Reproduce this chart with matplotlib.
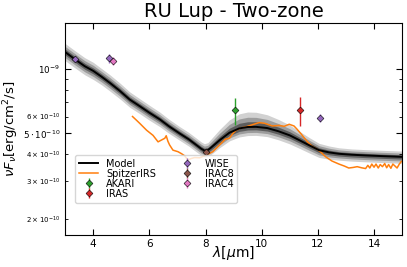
"""SED plot of RU Lup, two-zone model."""

import numpy as np
import matplotlib
matplotlib.use("Agg")
import matplotlib.pyplot as plt
from matplotlib.ticker import FixedLocator, FixedFormatter

# model: median curve and outer band half-widths (dex), flux in 1e-10 erg/cm2/s
model_wl = [3.0, 3.35, 3.7, 4.0, 4.3, 4.6, 4.95, 5.3, 5.66, 6.0, 6.37, 6.7,
            7.08, 7.4, 7.67, 7.85, 7.96, 8.08, 8.2, 8.5, 8.85, 9.2, 9.5, 9.8,
            10.2, 10.6, 11.0, 11.33, 11.7, 12.04, 12.4, 12.75, 13.2, 13.7,
            14.3, 15.0]
model_flux = [12.0, 11.1, 10.3, 9.8, 9.2, 8.6, 7.9, 7.2, 6.7, 6.25, 5.82, 5.4,
              5.0, 4.7, 4.42, 4.24, 4.16, 4.18, 4.3, 4.65, 5.04, 5.28, 5.36, 5.37,
              5.3, 5.12, 4.9, 4.66, 4.4, 4.18, 4.08, 4.02, 3.98, 3.95,
              3.92, 3.89]
band_up = [.040, .040, .040, .040, .038, .038, .037, .036, .035, .035, .034, .033,
           .032, .032, .032, .032, .032, .035, .040, .050, .060, .068, .070, .068,
           .062, .055, .048, .042, .036, .032, .030, .028, .027, .027,
           .027, .027]
band_dn = [.040, .040, .040, .040, .038, .038, .037, .036, .035, .035, .034, .033,
           .032, .032, .032, .031, .030, .031, .032, .035, .038, .040, .040, .040,
           .040, .040, .040, .038, .036, .034, .032, .030, .030, .030,
           .030, .030]
band_levels = [1.0, 0.65, 0.35]

# Spitzer IRS spectrum
irs_wl = [5.40, 5.55, 5.66, 5.9, 6.13, 6.31, 6.43, 6.55, 6.6, 6.66, 6.72, 6.84,
          7.02, 7.15, 7.26, 7.37, 7.49, 7.61, 7.79, 8.02, 8.26, 8.5, 8.7, 8.85,
          8.97, 9.09, 9.25, 9.44, 9.68, 9.91, 10.1, 10.38, 10.62, 10.8, 10.98,
          11.15, 11.25, 11.39, 11.63, 11.81, 11.93, 12.1, 12.28, 12.5, 12.75,
          12.95, 13.1, 13.25, 13.4, 13.55, 13.7, 13.78, 13.85, 13.92, 14.0,
          14.07, 14.15, 14.22, 14.3, 14.38, 14.45, 14.52, 14.6, 14.67, 14.75,
          14.82, 14.9, 14.97]
irs_flux = [6.0, 5.75, 5.57, 5.18, 4.9, 4.57, 4.66, 4.75, 4.88, 4.6, 4.42, 4.18,
            4.11, 4.02, 3.93, 3.76, 3.82, 3.86, 3.85, 3.96, 4.11, 4.42, 4.7, 4.75,
            5.0, 5.18, 5.3, 5.37, 5.5, 5.62, 5.58, 5.42, 5.45, 5.4, 5.52,
            5.42, 5.25, 5.0, 4.57, 4.34, 4.26, 4.1, 3.89, 3.72, 3.6,
            3.52, 3.45, 3.47, 3.5, 3.46, 3.43, 3.55, 3.45, 3.6, 3.48,
            3.6, 3.45, 3.58, 3.5, 3.62, 3.46, 3.58, 3.44, 3.6, 3.52,
            3.45, 3.6, 3.7]

# photometry
akari_wl, akari_flux, akari_err = [9.06], [6.43], [0.93]
iras_wl, iras_flux, iras_err = [11.35], [6.43], [1.0]
wise_wl, wise_flux, wise_err = [3.35, 4.57, 12.08], [11.1, 11.22, 5.89], [0.2, 0.5, 0.25]
irac8_wl, irac8_flux, irac8_err = [8.0], [4.1], [0.1]
irac4_wl, irac4_flux, irac4_err = [4.69], [10.89], [0.45]

scale = 1e-10

fig = plt.figure(figsize=(4.07, 2.67), dpi=100)
ax = fig.add_axes([0.16, 0.12, 0.828, 0.794])

wl = np.array(model_wl)
mf = np.array(model_flux) * scale
for lev, alpha in zip(band_levels, [0.18, 0.25, 0.4]):
    ax.fill_between(wl, mf / 10 ** (np.array(band_dn) * lev),
                    mf * 10 ** (np.array(band_up) * lev),
                    color='k', alpha=alpha, lw=0)
ax.plot(wl, mf, color='k', lw=1.4, label='Model', zorder=3)
ax.plot(irs_wl, np.array(irs_flux) * scale, color='tab:orange', lw=1.1,
        label='SpitzerIRS', zorder=2)

points = [('AKARI', akari_wl, akari_flux, akari_err, 'tab:green'),
          ('IRAS', iras_wl, iras_flux, iras_err, 'tab:red'),
          ('WISE', wise_wl, wise_flux, wise_err, 'tab:purple'),
          ('IRAC8', irac8_wl, irac8_flux, irac8_err, 'tab:brown'),
          ('IRAC4', irac4_wl, irac4_flux, irac4_err, 'tab:pink')]
for name, x, y, e, c in points:
    ax.errorbar(x, np.array(y) * scale, yerr=np.array(e) * scale, fmt='D',
                color=c, ms=3.5, mec='k', mew=0.4, elinewidth=1.0,
                label=name, zorder=4)

ax.set_yscale('log')
ax.set_xlim(3, 15)
ax.set_ylim(1.68e-10, 1.64e-9)

ax.yaxis.set_major_locator(FixedLocator([5e-10, 1e-9]))
ax.yaxis.set_major_formatter(FixedFormatter([r'$5\cdot10^{-10}$', r'$10^{-9}$']))
ax.yaxis.set_minor_locator(FixedLocator([2e-10, 3e-10, 4e-10, 6e-10,
                                         7e-10, 8e-10, 9e-10]))
ax.yaxis.set_minor_formatter(FixedFormatter([r'$2\times10^{-10}$', r'$3\times10^{-10}$',
                                             r'$4\times10^{-10}$', r'$6\times10^{-10}$',
                                             '', '', '']))
ax.set_xticks([4, 6, 8, 10, 12, 14])
ax.tick_params(which='both', direction='in', top=True, right=True)
ax.tick_params(axis='x', which='major', labelsize=7.5, length=4, pad=3)
ax.tick_params(axis='y', which='major', labelsize=6.3, length=4)
ax.tick_params(axis='y', which='minor', labelsize=5, length=2.5)

ax.set_xlabel(r'$\lambda$[$\mu$m]', fontsize=10)
ax.xaxis.set_label_coords(0.5, -0.045)
ax.set_ylabel(r'$\nu F_\nu$[erg/cm$^2$/s]', fontsize=9.5)
ax.yaxis.set_label_coords(-0.13, 0.5)
ax.set_title('RU Lup - Two-zone', fontsize=14, pad=4)

ax.legend(loc='lower left', bbox_to_anchor=(0.015, 0.13), ncol=2, fontsize=7,
          labelspacing=0.0, handlelength=2.0, columnspacing=2.2,
          borderpad=0.4, handletextpad=0.8)

fig.savefig('out.png', dpi=100)
